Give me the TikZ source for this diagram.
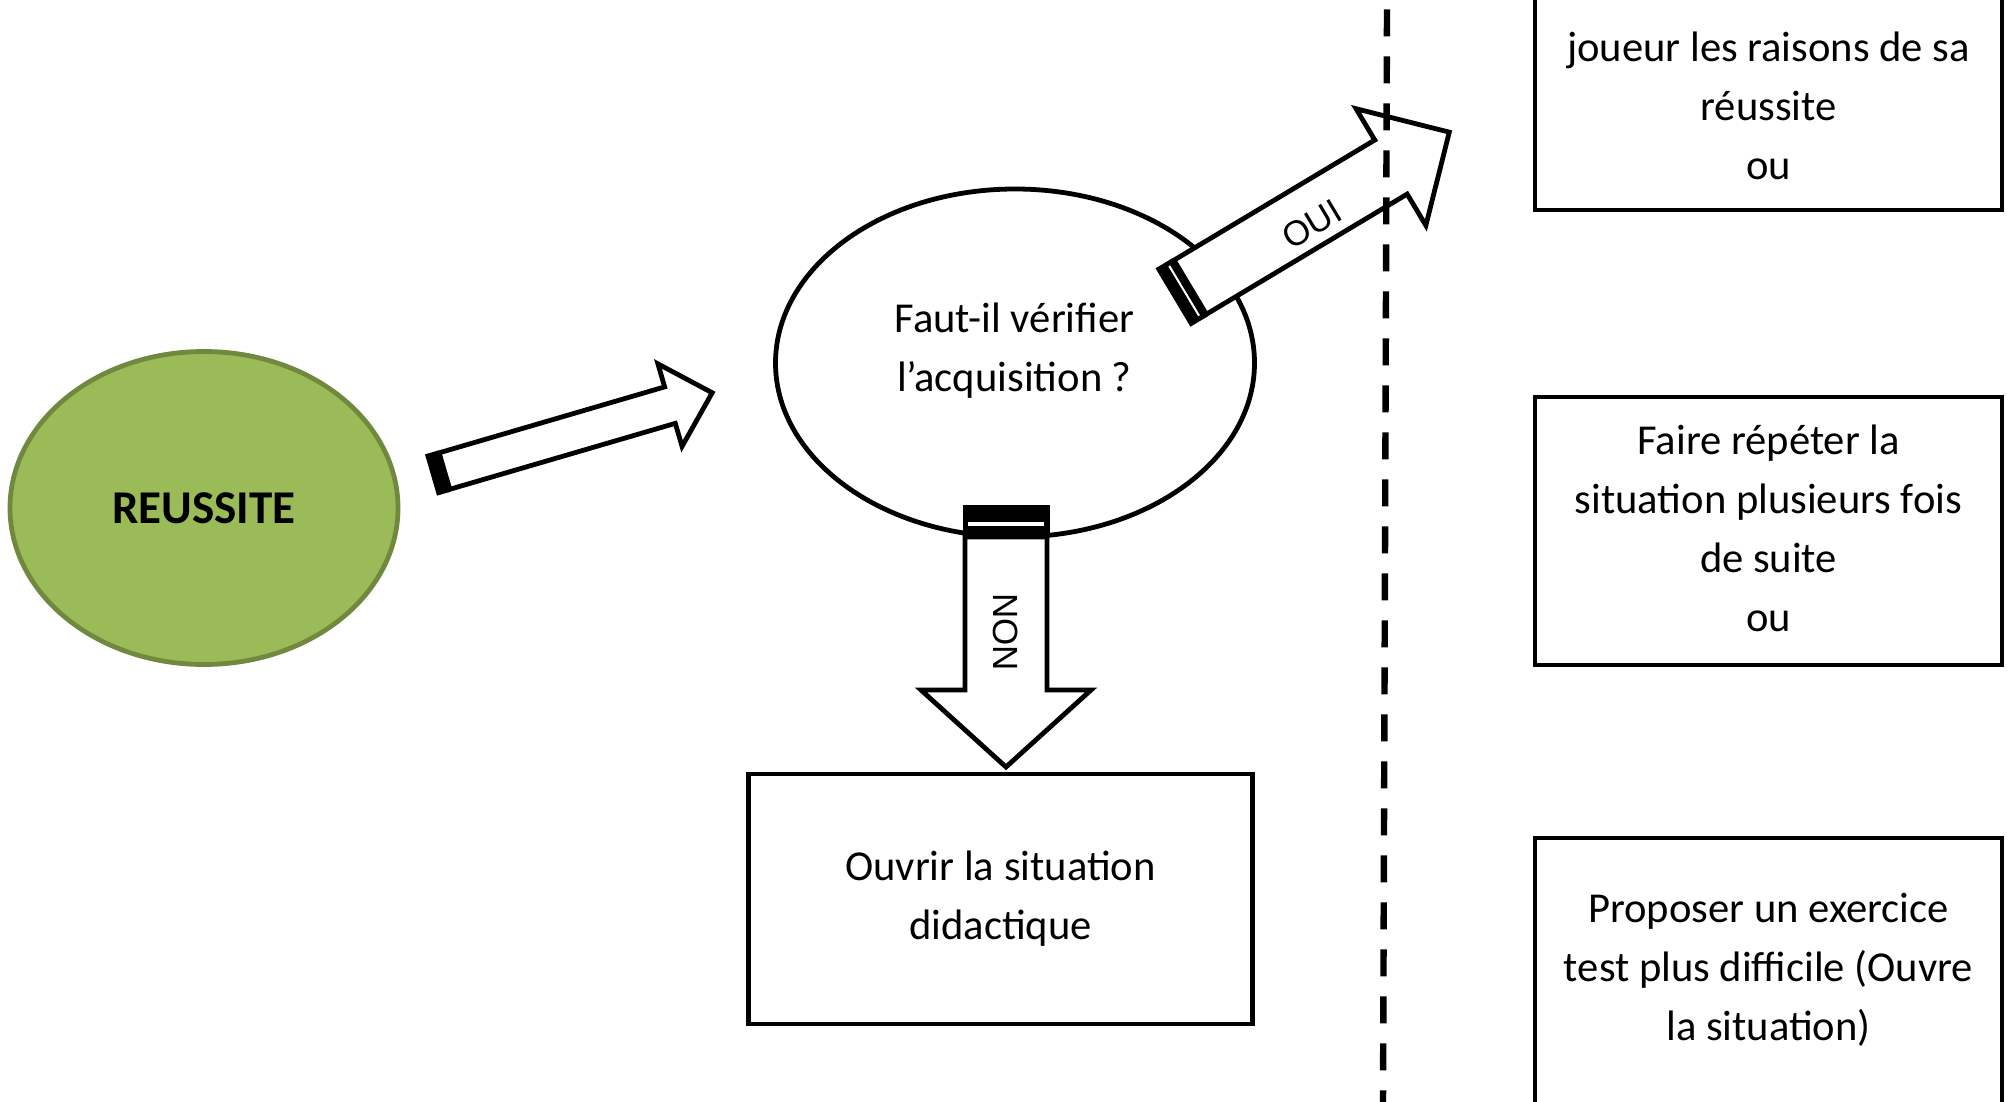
\documentclass[tikz,border=0pt]{standalone}
\usepackage{fontspec}
\setmainfont{Carlito}
\newfontfamily\arrowfont{Liberation Sans}
\usepackage{tikz}
\usetikzlibrary{shapes.geometric}
\definecolor{olivefill}{HTML}{9BBB59}
\definecolor{olivedraw}{HTML}{71893F}
\tikzset{
    every node/.style={inner sep=0mm, align=center, font=\fontsize{21.3}{29.5}\selectfont},
    bubble/.style={ellipse, draw, line width=2.4pt, fill=white},
    box/.style={rectangle, draw, line width=2.4pt, minimum width=233.5pt, minimum height=134pt},
    arrowlabel/.style={font=\arrowfont\fontsize{17.5}{20}\selectfont}
}
% block arrow along x: length, head start, shaft half width, head half width, tail bar
\newcommand{\blockarrow}[5]{%
  \fill (0,-#3-2.5) rectangle (#5,#3+2.5);
  \draw[line width=2.4pt, fill=white, miter limit=10] (#5,-#3) -- (#2,-#3) -- (#2,-#4) -- (#1,0) -- (#2,#4) -- (#2,#3) -- (#5,#3) -- cycle;
}

\begin{document}
\begin{tikzpicture}[x=0.5pt, y=-0.5pt]
    \useasboundingbox (0,0) rectangle (2013,1102);
    \clip (0,0) rectangle (2013,1102);

    \node (reussite) [bubble, draw=olivedraw, fill=olivefill, minimum width=194pt, minimum height=156.5pt] at (204,508) {};
    \node (verifier) [bubble, minimum width=239.5pt, minimum height=174pt] at (1015,363) {};
    \node (ouvrir) [box, minimum width=252pt, minimum height=125pt] at (1000.5,899) {};
    \node (expliquer) [box] at (1768.5,76) {};
    \node (repeter) [box] at (1768.5,531) {};
    \node (exercice) [box] at (1768.5,972) {};

    \node (reussiteTxt) [font=\fontsize{23.5}{28}\selectfont\bfseries] at (reussite) {REUSSITE};
    \node (verifierTxt) at (1014.5,351) {Faut-il vérifier\\l’acquisition ?};
    \node (ouvrirTxt) at (1000.5,899) {Ouvrir la situation\\didactique};
    \node (expliquerTxt) at (1768.5,105.5) {joueur les raisons de sa\\réussite\\ou};
    \node (repeterTxt) at (1768.5,528) {Faire répéter la\\situation plusieurs fois\\de suite\\ou};
    \node (exerciceTxt) at (1768.5,969.5) {Proposer un exercice\\test plus difficile (Ouvre\\la situation)};

    \coordinate (versVerifier) at (431,475);
    \begin{scope}[shift={(versVerifier)}, rotate=16.3]
        \blockarrow{293}{249}{19}{43}{14}
    \end{scope}

    \coordinate (oui) at (1173,297.5);
    \begin{scope}[shift={(oui)}, rotate=30.9]
        \blockarrow{322}{254}{31.5}{68}{20}
        \draw [white, line width=1pt] (13,-29) -- (13,29);
        \node (ouiTxt) [arrowlabel, rotate=30.9] at (157,8) {OUI};
    \end{scope}

    \coordinate (non) at (1006,505);
    \begin{scope}[shift={(non)}, rotate=-90]
        \blockarrow{262}{185}{41}{85}{32}
        \draw [white, line width=2pt] (19,-38) -- (19,38);
        \node (nonTxt) [arrowlabel, rotate=-90] at (127,0) {NON};
    \end{scope}

    \coordinate (sepTop) at (1387,9.4);
    \coordinate (sepBot) at (1383,1102);
    \draw [line width=3.2pt, dash pattern=on 13.5pt off 10pt] (sepTop) -- (sepBot);
\end{tikzpicture}
\end{document}
